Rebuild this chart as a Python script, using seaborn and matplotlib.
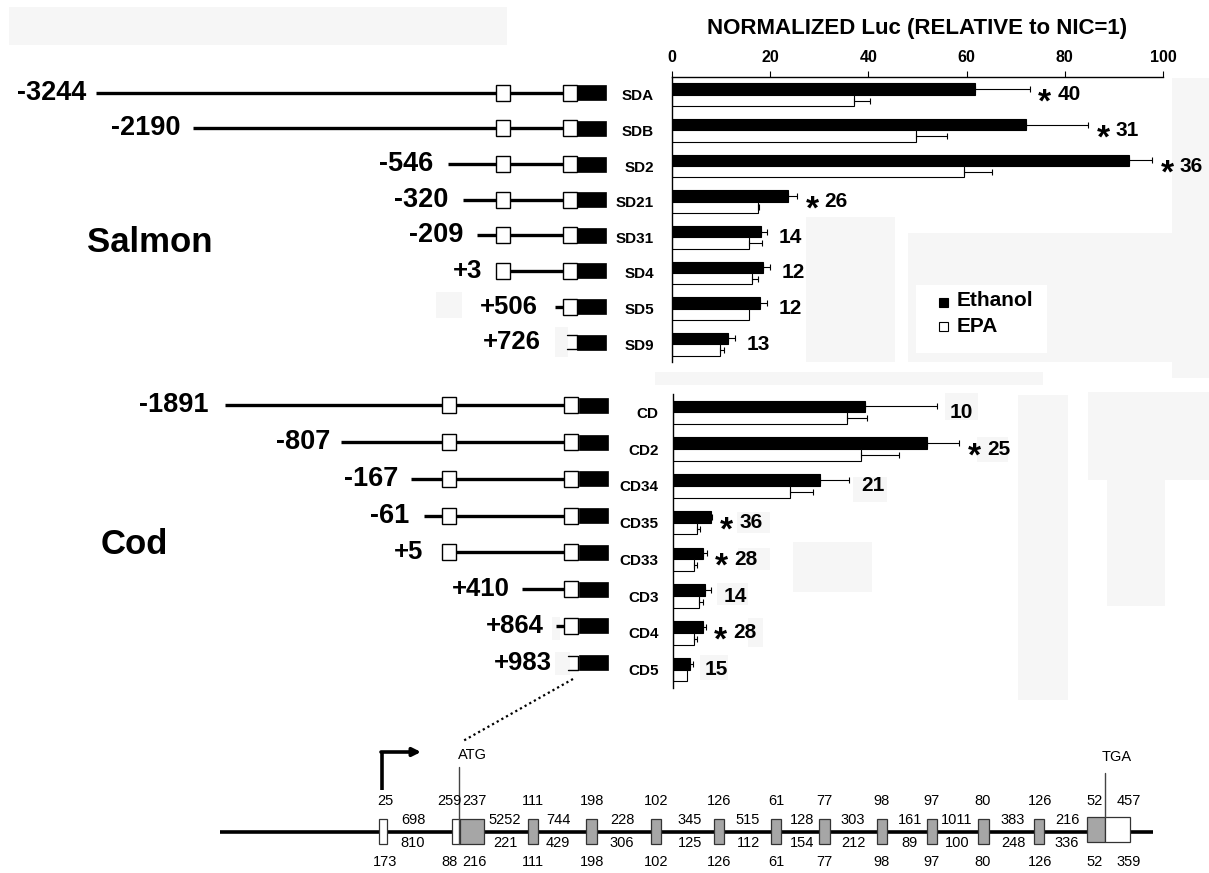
import matplotlib
matplotlib.use('Agg')
import matplotlib.pyplot as plt
from matplotlib import font_manager
from matplotlib.patches import Rectangle
from matplotlib.container import BarContainer
import pandas as pd
import seaborn as sns

sns.set_theme(style='white')
plt.rcParams['font.family'] = ['Liberation Sans', 'DejaVu Sans']
plt.rcParams['text.color'] = 'black'
plt.rcParams['axes.labelcolor'] = 'black'
plt.rcParams['xtick.color'] = 'black'
plt.rcParams['ytick.color'] = 'black'

# narrow face for the gene map labels if it is there
try:
    font_manager.findfont('Liberation Sans Narrow', fallback_to_default=False)
    gene_font, gene_size = ['Liberation Sans Narrow', 'DejaVu Sans'], 13
except ValueError:
    gene_font, gene_size = ['Liberation Sans', 'DejaVu Sans'], 10.5

# ---------------- data ----------------
salmon_names = ['SDA', 'SDB', 'SD2', 'SD21', 'SD31', 'SD4', 'SD5', 'SD9']
salmon_starts = ['-3244', '-2190', '-546', '-320', '-209', '+3', '+506', '+726']
salmon_ethanol = [61.7, 72.1, 93.1, 23.7, 18.1, 18.5, 17.9, 11.4]
salmon_ethanol_err = [11.2, 12.7, 4.7, 1.8, 1.2, 1.5, 1.4, 1.4]
salmon_epa = [37.1, 49.7, 59.4, 17.5, 15.6, 16.2, 15.7, 9.7]
salmon_epa_err = [3.3, 6.3, 5.8, 0.2, 2.8, 1.4, 0.0, 0.8]
salmon_fold = ['40', '31', '36', '26', '14', '12', '12', '13']
salmon_sig = [True, True, True, True, False, False, False, False]

cod_names = ['CD', 'CD2', 'CD34', 'CD35', 'CD33', 'CD3', 'CD4', 'CD5']
cod_starts = ['-1891', '-807', '-167', '-61', '+5', '+410', '+864', '+983']
cod_ethanol = [39.2, 51.7, 30.1, 7.8, 6.2, 6.6, 6.2, 3.5]
cod_ethanol_err = [14.7, 6.7, 5.9, 0.2, 0.7, 1.3, 0.6, 0.6]
cod_epa = [35.4, 38.4, 23.8, 5.0, 4.4, 5.4, 4.4, 3.0]
cod_epa_err = [4.2, 7.6, 4.8, 0.6, 0.5, 0.7, 0.5, 0.0]
cod_fold = ['10', '25', '21', '36', '28', '14', '28', '15']
cod_sig = [False, True, False, True, True, False, True, False]

# gene structure (exon / intron sizes)
exon_top = ['25', '259', '237', '111', '198', '102', '126', '61', '77', '98', '97', '80', '126', '52', '457']
exon_bot = ['173', '88', '216', '111', '198', '102', '126', '61', '77', '98', '97', '80', '126', '52', '359']
intron_top = ['698', '5252', '744', '228', '345', '515', '128', '303', '161', '1011', '383', '216']
intron_bot = ['810', '221', '429', '306', '125', '112', '154', '212', '89', '100', '248', '336']

# ---------------- layout (pixels) ----------------
W, H = 1209, 873
salmon_line_x = [96, 193, 448, 463, 477, 503, None, None]
salmon_stub_x = [None, None, None, None, None, None, 555, None]
salmon_label_x = [86, 180, 433, 448, 463, 482, 538, 541]
salmon_box1 = [True, True, True, True, True, True, False, False]
salmon_half = [False] * 7 + [True]

cod_line_x = [225, 341, 411, 424, 447, 522, None, None]
cod_stub_x = [None, None, None, None, None, None, 556, None]
cod_label_x = [209, 330, 398, 409, 423, 510, 544, 552]
cod_box1 = [True, True, True, True, True, False, False, False]
cod_half = [False] * 7 + [True]

exon_seg = [(379, 387, 'w'), (452, 460, 'w'), (460, 484, 'g'), (528, 538, 'g'), (586, 597, 'g'),
            (651, 661, 'g'), (714, 724, 'g'), (771, 781, 'g'), (819, 830, 'g'), (877, 887, 'g'),
            (927, 937, 'g'), (978, 989, 'g'), (1034, 1044, 'g'), (1087, 1105, 'g'), (1105, 1130, 'w')]
exon_lx = [385, 449, 474, 533, 592, 656, 719, 776, 824, 882, 932, 983, 1040, 1095, 1129]
intron_lx = [413, 505, 558, 622, 690, 748, 802, 853, 910, 957, 1013, 1067]

shade = [(9, 7, 507, 45), (1172, 78, 1209, 378), (806, 217, 895, 362), (908, 233, 1172, 362),
         (655, 372, 1043, 385), (1018, 395, 1068, 700), (1088, 392, 1209, 480), (1107, 480, 1165, 606),
         (793, 542, 872, 592), (945, 393, 978, 420), (977, 437, 1008, 462), (853, 477, 887, 502),
         (737, 512, 770, 533), (738, 548, 770, 570), (717, 583, 748, 605), (748, 618, 763, 647),
         (700, 655, 728, 680), (436, 292, 462, 318), (555, 327, 568, 357), (552, 617, 560, 640),
         (555, 652, 570, 675)]


def fig_rect(x0, y0, x1, y1):
    return [x0 / W, 1 - y1 / H, (x1 - x0) / W, (y1 - y0) / H]


fig = plt.figure(figsize=(W / 100, H / 100), dpi=100)
ov = fig.add_axes([0, 0, 1, 1])
ov.set_xlim(0, W)
ov.set_ylim(H, 0)
ov.axis('off')

for x0, y0, x1, y1 in shade:
    ov.add_patch(Rectangle((x0, y0), x1 - x0, y1 - y0, color='#f6f6f6', lw=0, zorder=0))
# white hole behind legend
ov.add_patch(Rectangle((916, 285), 131, 68, color='white', lw=0, zorder=0.5))

ax_s = fig.add_axes(fig_rect(672, 77, 1163, 362))
ax_c = fig.add_axes(fig_rect(672.7, 394, 1163.7, 688))


def draw_bars(ax, names, eth, eth_err, epa, epa_err, fold, sig, top_axis):
    df = pd.DataFrame({
        'construct': names * 2,
        'treatment': ['Ethanol'] * len(names) + ['EPA'] * len(names),
        'value': eth + epa,
    })
    sns.barplot(data=df, x='value', y='construct', hue='treatment', order=names,
                hue_order=['Ethanol', 'EPA'], palette={'Ethanol': 'black', 'EPA': 'white'},
                edgecolor='black', linewidth=0.8, width=0.64, orient='h', errorbar=None,
                legend=False, saturation=1, ax=ax)
    ax.set_facecolor('none')
    ax.set_xlim(0, 100)
    ax.set_ylim(len(names) - 0.5, -0.5)
    ax.set_xlabel('')
    ax.set_ylabel('')

    bars = [c for c in ax.containers if isinstance(c, BarContainer)]
    for cont in bars:
        dark = cont.patches[0].get_facecolor()[0] < 0.5
        errs = eth_err if dark else epa_err
        for bar in cont.patches:
            yc = bar.get_y() + bar.get_height() / 2
            i = int(round(yc))
            if errs[i] > 0:
                ax.errorbar(bar.get_width(), yc, xerr=[[0], [errs[i]]], fmt='none',
                            ecolor='black', elinewidth=0.8, capsize=2.4, capthick=0.8)

    for i in range(len(names)):
        tip = max(eth[i] + eth_err[i], epa[i] + epa_err[i])
        if sig[i]:
            ax.annotate('*', xy=(tip + 3.0, i), xytext=(0, -12), textcoords='offset points',
                        ha='center', va='baseline', fontsize=24, fontweight='bold',
                        annotation_clip=False)
            xn = tip + 5.6
        else:
            xn = tip + 2.4
        ax.text(xn, i, fold[i], ha='left', va='center', fontsize=15, fontweight='bold')

    for side in ['right', 'bottom']:
        ax.spines[side].set_visible(False)
    ax.spines['left'].set_color('black')
    ax.spines['left'].set_linewidth(1.0)
    if top_axis:
        ax.xaxis.tick_top()
        ax.set_xticks([0, 20, 40, 60, 80, 100])
        ax.tick_params(axis='x', direction='out', length=4, width=0.8, color='black', pad=5,
                       labelsize=11.5, labelcolor='black')
        plt.setp(ax.get_xticklabels(), fontweight='bold')
        ax.spines['top'].set_color('black')
        ax.spines['top'].set_linewidth(1.0)
    else:
        ax.spines['top'].set_visible(False)
        ax.set_xticks([])
    ax.tick_params(axis='y', length=0, labelsize=11, labelcolor='black', pad=13)
    plt.setp(ax.get_yticklabels(), fontweight='bold')


draw_bars(ax_s, salmon_names, salmon_ethanol, salmon_ethanol_err, salmon_epa, salmon_epa_err,
          salmon_fold, salmon_sig, True)
draw_bars(ax_c, cod_names, cod_ethanol, cod_ethanol_err, cod_epa, cod_epa_err,
          cod_fold, cod_sig, False)
ax_c.tick_params(axis='y', pad=10)

ax_s.set_title('NORMALIZED Luc (RELATIVE to NIC=1)', fontsize=16, fontweight='bold', pad=31,
               color='black')


def row_pix(ax, i):
    disp = ax.transData.transform((0, i))
    return ov.transData.inverted().transform(disp)[1]


def draw_constructs(ax, starts, line_x, stub_x, label_x, box1, half, b1x, b2x, blk, dy):
    for i, lab in enumerate(starts):
        y = row_pix(ax, i) + dy
        if line_x[i] is not None:
            ov.plot([line_x[i], b2x], [y, y], color='black', lw=2.4, solid_capstyle='butt', zorder=2)
        if stub_x[i] is not None:
            ov.plot([stub_x[i], b2x], [y, y], color='black', lw=2.4, solid_capstyle='butt', zorder=2)
        if box1[i]:
            ov.add_patch(Rectangle((b1x - 7, y - 8), 14, 16, facecolor='white', edgecolor='black',
                                   lw=1.0, zorder=3))
        if half[i]:
            ov.plot([b2x - 3, b2x + 7, b2x + 7, b2x - 3], [y - 7, y - 7, y + 7, y + 7],
                    color='black', lw=1.0, zorder=3)
        else:
            ov.add_patch(Rectangle((b2x - 7, y - 8), 14, 16, facecolor='white', edgecolor='black',
                                   lw=1.0, zorder=3))
        ov.add_patch(Rectangle((blk, y - 7.5), 29, 15, facecolor='black', edgecolor='black',
                               lw=0.5, zorder=3))
        ov.text(label_x[i], y, lab, ha='right', va='center', fontweight='bold',
                fontsize=18.5 if lab.startswith('+') else 19.5)


draw_constructs(ax_s, salmon_starts, salmon_line_x, salmon_stub_x, salmon_label_x,
                salmon_box1, salmon_half, 503, 570, 577, -2)
draw_constructs(ax_c, cod_starts, cod_line_x, cod_stub_x, cod_label_x,
                cod_box1, cod_half, 449, 571, 579, -7)

ov.text(87, 242, 'Salmon', ha='left', va='center', fontsize=25, fontweight='bold')
ov.text(101, 545, 'Cod', ha='left', va='center', fontsize=25, fontweight='bold')

# legend
ov.add_patch(Rectangle((939, 298), 9, 9, facecolor='black', edgecolor='black', lw=0.8, zorder=3))
ov.add_patch(Rectangle((939, 322), 9, 9, facecolor='white', edgecolor='black', lw=0.8, zorder=3))
ov.text(957, 301, 'Ethanol', ha='left', va='center', fontsize=15, fontweight='bold')
ov.text(957, 326, 'EPA', ha='left', va='center', fontsize=15, fontweight='bold')

# dotted link to the gene
ov.plot([573, 463], [679, 741], color='black', lw=1.6, ls=(0, (1, 1.4)))

# gene structure
gy = 832
ov.plot([220, 1153], [gy, gy], color='black', lw=2.6, solid_capstyle='butt', zorder=1)
for k, (x0, x1, c) in enumerate(exon_seg):
    top = gy - 13 if k < 13 else gy - 15
    ov.add_patch(Rectangle((x0, top), x1 - x0, 25,
                           facecolor='#a6a6a6' if c == 'g' else 'white',
                           edgecolor='#333333', lw=0.9, zorder=2))
ov.plot([459, 459], [767, gy + 12], color='#444444', lw=1.0, zorder=3)
ov.plot([1105, 1105], [773, gy - 15], color='#444444', lw=1.0, zorder=3)
ov.text(472, 755, 'ATG', ha='center', va='center', fontsize=gene_size, family=gene_font)
ov.text(1117, 757, 'TGA', ha='center', va='center', fontsize=gene_size, family=gene_font)
ov.plot([382, 382], [790, 752], color='black', lw=2.6, solid_capstyle='butt')
ov.annotate('', xy=(421, 752), xytext=(381, 752),
            arrowprops=dict(arrowstyle='-|>', lw=2.6, color='black', mutation_scale=12,
                            shrinkA=0, shrinkB=0))

for k in range(len(exon_top)):
    ov.text(exon_lx[k], 801, exon_top[k], ha='center', va='center', fontsize=gene_size, family=gene_font)
    ov.text(exon_lx[k], 862, exon_bot[k], ha='center', va='center', fontsize=gene_size, family=gene_font)
for k in range(len(intron_top)):
    ov.text(intron_lx[k], 820, intron_top[k], ha='center', va='center', fontsize=gene_size, family=gene_font)
    ov.text(intron_lx[k], 843, intron_bot[k], ha='center', va='center', fontsize=gene_size, family=gene_font)

fig.savefig('out.png', dpi=100)
